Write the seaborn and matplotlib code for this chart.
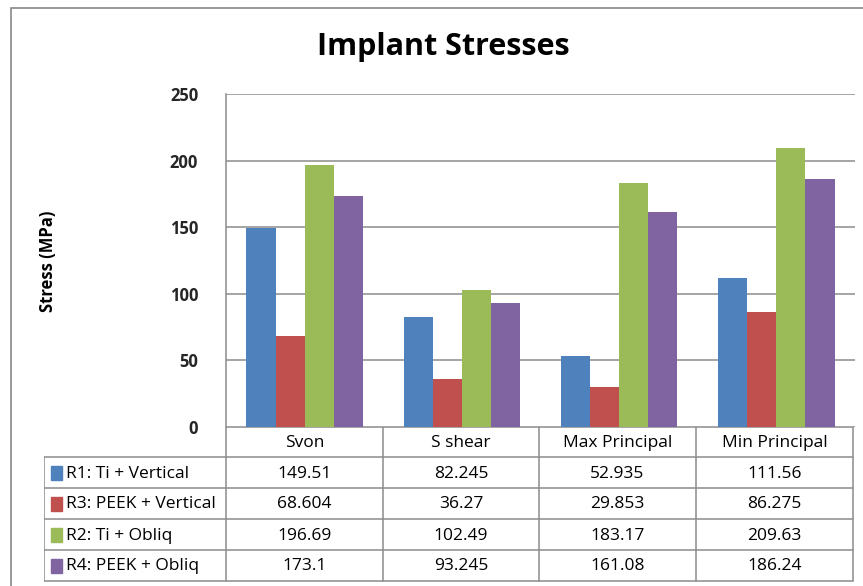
import matplotlib
matplotlib.use("Agg")
import matplotlib.pyplot as plt
import pandas as pd
import seaborn as sns
from matplotlib.lines import Line2D
from matplotlib.patches import Rectangle

categories = ["Svon", "S shear", "Max Principal", "Min Principal"]
series = ["R1: Ti + Vertical", "R3: PEEK + Vertical", "R2: Ti + Obliq", "R4: PEEK + Obliq"]
r1 = [149.51, 82.245, 52.935, 111.56]
r3 = [68.604, 36.27, 29.853, 86.275]
r2 = [196.69, 102.49, 183.17, 209.63]
r4 = [173.1, 93.245, 161.08, 186.24]
labels_text = [["149.51", "82.245", "52.935", "111.56"],
               ["68.604", "36.27", "29.853", "86.275"],
               ["196.69", "102.49", "183.17", "209.63"],
               ["173.1", "93.245", "161.08", "186.24"]]
colors = ["#4F81BD", "#C0504D", "#9BBB59", "#8064A2"]

rows = []
for name, vals in zip(series, [r1, r3, r2, r4]):
    for cat, v in zip(categories, vals):
        rows.append({"cat": cat, "series": name, "value": v})
df = pd.DataFrame(rows)

sns.set_theme(style="white")
plt.rcParams["font.family"] = ["Open Sans", "DejaVu Sans"]

W, H = 863, 586
fig = plt.figure(figsize=(W / 100, H / 100), dpi=100)


def px_box(x0, y0, x1, y1):
    return [x0 / W, 1 - y1 / H, (x1 - x0) / W, (y1 - y0) / H]


# outer chart border
fig.add_artist(Rectangle((11 / W, -0.1), 1.2, 1 - 8 / H + 0.1, transform=fig.transFigure,
                         fill=False, edgecolor="#888888", lw=1.2))

ax = fig.add_axes(px_box(226, 94, 855, 427))
sns.barplot(data=df, x="cat", y="value", hue="series", palette=colors,
            width=0.74, saturation=1, ax=ax, legend=False, zorder=3)
ax.set_ylim(0, 250)
ax.set_yticks([0, 50, 100, 150, 200, 250])
ax.set_yticklabels(["0", "50", "100", "150", "200", "250"], fontsize=12, fontweight="bold")
ax.tick_params(axis="y", pad=20, length=0)
ax.set_xticks([])
ax.set_xlabel("")
ax.set_ylabel("")
ax.grid(axis="y", color="#8c8c8c", lw=1.1, zorder=0)
for s in ["top", "right", "bottom"]:
    ax.spines[s].set_visible(False)
ax.spines["left"].set_color("#8c8c8c")
ax.spines["left"].set_linewidth(1.1)
for p in ax.patches:
    p.set_edgecolor("none")

fig.text(443 / W, 1 - 47 / H, "Implant Stresses", ha="center", va="center",
         fontsize=22, fontweight="bold", color="black")
fig.text(48 / W, 1 - 261 / H, "Stress (MPa)", ha="center", va="center",
         rotation=90, fontsize=12, fontweight="bold", color="black")

# data table below the plot, drawn in pixel units
tx = fig.add_axes(px_box(44, 427, 855, 582))
tx.set_xlim(44, 855)
tx.set_ylim(582, 427)
tx.axis("off")
col_edges = [226, 383, 539, 696, 853]
row_edges = [427, 457, 488, 519, 550, 581]
lc = "#8c8c8c"
tx.add_line(Line2D([226, 853], [427, 427], color=lc, lw=1.1))
for y in row_edges[1:]:
    tx.add_line(Line2D([44, 853], [y, y], color=lc, lw=1.1))
for x in col_edges:
    tx.add_line(Line2D([x, x], [427, 581], color=lc, lw=1.1))
tx.add_line(Line2D([44, 44], [457, 581], color=lc, lw=1.1))

fs = 12.5
for j, cat in enumerate(categories):
    cx = (col_edges[j] + col_edges[j + 1]) / 2
    tx.text(cx, (row_edges[0] + row_edges[1]) / 2 + 1, cat, ha="center", va="center",
            fontsize=fs, color="black")
for i, name in enumerate(series):
    cy = (row_edges[i + 1] + row_edges[i + 2]) / 2
    tx.add_patch(Rectangle((51, cy - 7), 11, 14, color=colors[i]))
    tx.text(66, cy + 1, name, ha="left", va="center", fontsize=fs, color="black")
    for j in range(len(categories)):
        cx = (col_edges[j] + col_edges[j + 1]) / 2
        tx.text(cx, cy + 1, labels_text[i][j], ha="center", va="center",
                fontsize=fs, color="black")

fig.savefig("out.png", dpi=100)
